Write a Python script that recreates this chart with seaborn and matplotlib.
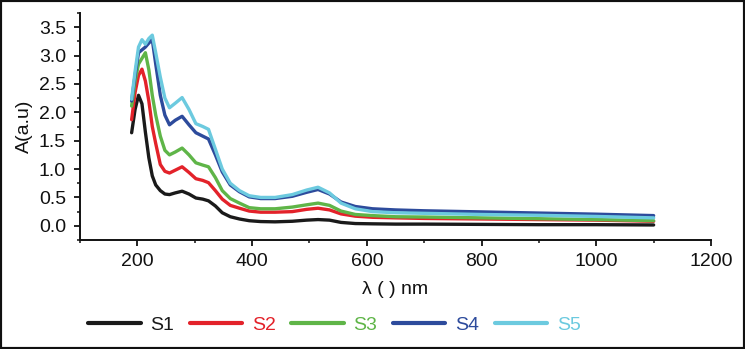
import numpy as np
import pandas as pd
import seaborn as sns
import matplotlib
matplotlib.use("Agg")
import matplotlib.pyplot as plt
from matplotlib.patches import Rectangle
from matplotlib.ticker import MultipleLocator

# ---- data ----
wavelength = [190, 196, 202, 208, 214, 220, 226, 232, 240, 248, 256, 266, 278, 290,
              302, 314, 324, 336, 348, 362, 378, 395, 415, 440, 470, 495, 515, 535,
              555, 580, 610, 650, 700, 800, 900, 1000, 1100]

s1 = [1.64, 2.05, 2.30, 2.15, 1.65, 1.20, 0.88, 0.72, 0.62, 0.56, 0.55, 0.58, 0.61, 0.56,
      0.49, 0.47, 0.44, 0.35, 0.23, 0.16, 0.12, 0.09, 0.075, 0.07, 0.08, 0.10, 0.11, 0.10,
      0.06, 0.04, 0.035, 0.03, 0.03, 0.025, 0.02, 0.02, 0.015]
s2 = [1.87, 2.35, 2.65, 2.76, 2.55, 2.20, 1.75, 1.45, 1.08, 0.96, 0.93, 0.98, 1.04, 0.94,
      0.83, 0.80, 0.76, 0.62, 0.47, 0.36, 0.31, 0.26, 0.24, 0.24, 0.25, 0.29, 0.31, 0.28,
      0.21, 0.17, 0.15, 0.14, 0.13, 0.12, 0.11, 0.10, 0.08]
s3 = [2.11, 2.55, 2.85, 2.95, 3.05, 2.75, 2.30, 1.95, 1.58, 1.33, 1.25, 1.30, 1.37, 1.25,
      1.11, 1.07, 1.04, 0.85, 0.62, 0.48, 0.40, 0.32, 0.30, 0.30, 0.33, 0.37, 0.40, 0.36,
      0.26, 0.20, 0.18, 0.16, 0.155, 0.14, 0.125, 0.11, 0.09]
s4 = [2.20, 2.65, 3.05, 3.10, 3.15, 3.22, 3.28, 2.85, 2.30, 1.95, 1.78, 1.86, 1.93, 1.78,
      1.64, 1.58, 1.53, 1.25, 0.95, 0.72, 0.60, 0.51, 0.48, 0.48, 0.52, 0.59, 0.64, 0.56,
      0.42, 0.34, 0.30, 0.28, 0.265, 0.245, 0.225, 0.205, 0.18]
s5 = [2.23, 2.72, 3.15, 3.28, 3.20, 3.30, 3.36, 3.05, 2.62, 2.25, 2.08, 2.16, 2.26, 2.05,
      1.80, 1.75, 1.70, 1.35, 1.00, 0.75, 0.62, 0.53, 0.50, 0.50, 0.55, 0.63, 0.68, 0.58,
      0.40, 0.30, 0.25, 0.23, 0.22, 0.20, 0.185, 0.165, 0.14]

series_names = ["S1", "S2", "S3", "S4", "S5"]
colors = ["#1a1a1a", "#e3222a", "#5fb548", "#2d4b9c", "#6ccadf"]

x_ticks = [200, 400, 600, 800, 1000, 1200]
y_ticks = [0.0, 0.5, 1.0, 1.5, 2.0, 2.5, 3.0, 3.5]

frames = []
for name, vals in zip(series_names, [s1, s2, s3, s4, s5]):
    frames.append(pd.DataFrame({"wl": wavelength, "A": vals, "series": name}))
df = pd.concat(frames, ignore_index=True)

sns.set_theme(style="ticks")
plt.rcParams["font.family"] = ["Liberation Sans", "DejaVu Sans"]
plt.rcParams["lines.solid_joinstyle"] = "round"

fig = plt.figure(figsize=(7.45, 3.49), dpi=100)
ax = fig.add_axes([80 / 745, 1 - 240 / 349, (711 - 80) / 745, (240 - 13) / 349])

sns.lineplot(data=df, x="wl", y="A", hue="series", palette=dict(zip(series_names, colors)),
             linewidth=2.4, ax=ax, legend=False, sort=False)

ax.set_xlim(100, 1200)
ax.set_ylim(-0.25, 3.75)
ax.set_xticks(x_ticks)
ax.set_xticklabels([str(t) for t in x_ticks])
ax.set_yticks(y_ticks)
ax.set_yticklabels([f"{t:.1f}" for t in y_ticks])
ax.xaxis.set_minor_locator(MultipleLocator(100))
ax.yaxis.set_minor_locator(MultipleLocator(0.25))

for s in ["top", "right"]:
    ax.spines[s].set_visible(False)
for s in ["left", "bottom"]:
    ax.spines[s].set_linewidth(1.4)
    ax.spines[s].set_color("#111111")

ax.tick_params(which="major", direction="out", length=4, width=1.3, labelsize=14,
               colors="#111111")
ax.tick_params(which="minor", direction="out", length=2.5, width=1.1, colors="#111111")
ax.tick_params(axis="y", which="major", pad=6)
ax.tick_params(axis="x", which="major", pad=5)

ax.set_xlabel("λ ( ) nm", fontsize=14, labelpad=8, color="#111111")
ax.set_ylabel("A(a.u)", fontsize=14, labelpad=4, color="#111111")

handles = [plt.Line2D([], [], color=c, linewidth=3.0) for c in colors]
leg = fig.legend(handles, series_names, loc="center left",
                 bbox_to_anchor=(88 / 745, 1 - 325 / 349), ncol=5, frameon=False,
                 fontsize=14, handlelength=2.7, handletextpad=0.5, columnspacing=0.8,
                 borderpad=0, borderaxespad=0)
for txt, c in zip(leg.get_texts(), colors):
    txt.set_color(c)

fig.patches.append(Rectangle((0, 0), 1, 1, transform=fig.transFigure, fill=False,
                             edgecolor="#111111", linewidth=3.0))

fig.savefig("out.png", dpi=100)
